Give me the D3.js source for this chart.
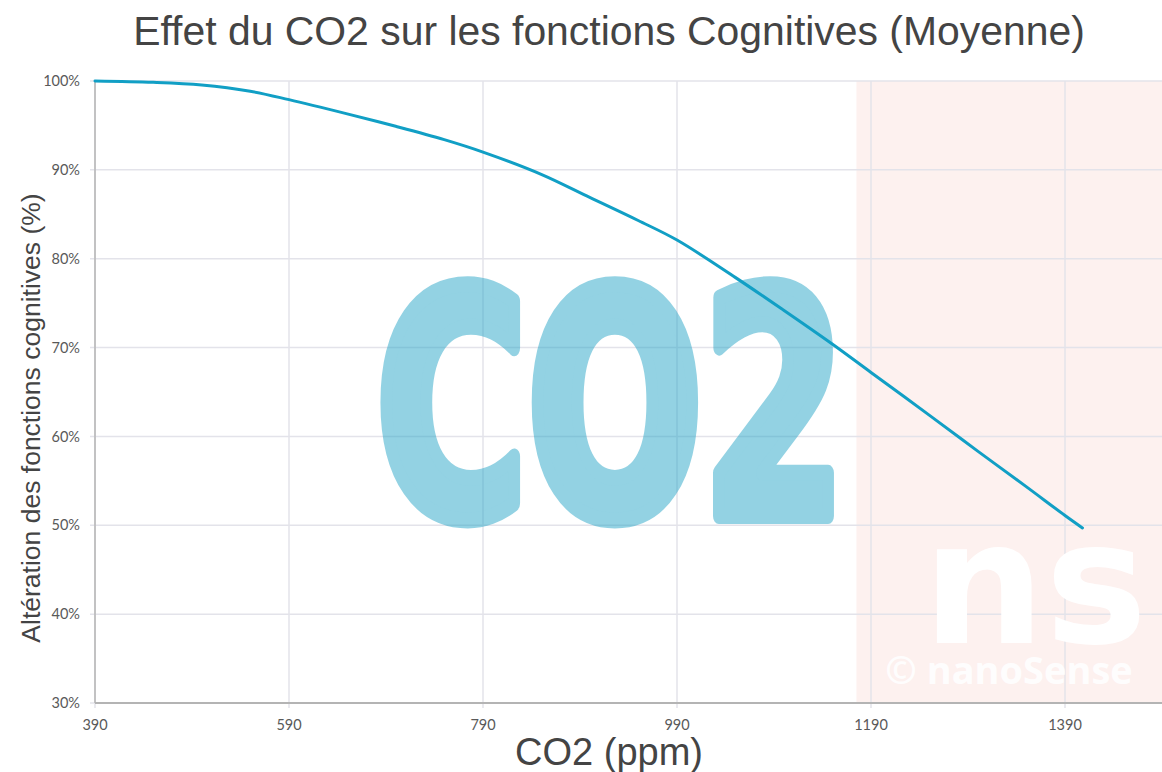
<!DOCTYPE html>
<html>
<head>
<meta charset="utf-8">
<style>
  body { margin: 0; background: #fff; }
  svg { display: block; }
</style>
</head>
<body>
<div id="chart"></div>
<script src="https://d3js.org/d3.v7.min.js"></script>
<script>
// values (CO2 ppm -> % cognitive function)
var co2 = [390, 450, 500, 550, 590, 650, 700, 750, 790, 850, 900, 950, 990, 1050, 1100, 1150, 1190, 1250, 1300, 1350, 1390, 1408];
var cognition = [100, 99.85, 99.55, 98.85, 97.9, 96.3, 94.9, 93.4, 92.0, 89.5, 86.9, 84.3, 82.1, 77.9, 74.2, 70.4, 67.2, 62.4, 58.35, 54.35, 51.1, 49.7];
var xTicks = [390, 590, 790, 990, 1190, 1390];
var yTicks = [30, 40, 50, 60, 70, 80, 90, 100];
var dangerStart = 1175;   // start of the pink zone

var W = 1162, H = 772;
var margin = {top: 81, right: 0, bottom: 69, left: 95};

var svg = d3.select("#chart").append("svg")
  .attr("width", W).attr("height", H);

var x = d3.scaleLinear().domain([390, 1490]).range([margin.left, W - margin.right]);
var y = d3.scaleLinear().domain([30, 100]).range([H - margin.bottom, margin.top]);

// pink zone
svg.append("rect")
  .attr("x", x(dangerStart)).attr("y", y(100))
  .attr("width", x.range()[1] - x(dangerStart))
  .attr("height", y(30) - y(100))
  .attr("fill", "#fdf1ef");

// grid
svg.append("g").selectAll("line").data(yTicks).enter().append("line")
  .attr("x1", x.range()[0] - 5).attr("x2", x.range()[1])
  .attr("y1", function (d) { return y(d); }).attr("y2", function (d) { return y(d); })
  .attr("stroke", "#e3e3ea").attr("stroke-width", 1.5);
svg.append("g").selectAll("line").data(xTicks).enter().append("line")
  .attr("x1", function (d) { return x(d); }).attr("x2", function (d) { return x(d); })
  .attr("y1", y(100)).attr("y2", y(30) + 5)
  .attr("stroke", "#e3e3ea").attr("stroke-width", 1.5);

// big CO2 watermark (heavy condensed look: bold text + thick outline, group made translucent)
var wmGroup = svg.append("g").attr("opacity", 0.5);
var wm = wmGroup.append("text")
  .text("CO2")
  .style("font-family", "'DejaVu Sans Condensed', 'DejaVu Sans'")
  .style("font-weight", "bold")
  .style("font-size", "100px")
  .attr("fill", "#29a6c8")
  .attr("stroke", "#29a6c8").attr("stroke-width", 14)
  .attr("stroke-linejoin", "round")
  .attr("vector-effect", "non-scaling-stroke");
var wmLen = wm.node().getComputedTextLength();
var sx = 470 / wmLen, sy = 228 / 73;
wm.attr("transform", "translate(376,516) scale(" + sx + "," + sy + ")");

// nanoSense logo
svg.append("text")
  .attr("x", 1035).attr("y", 643)
  .attr("text-anchor", "middle")
  .style("font-family", "'DejaVu Sans'").style("font-weight", "bold")
  .style("font-size", "172px")
  .attr("fill", "#fff")
  .text("ns");
svg.append("text")
  .attr("x", 1009).attr("y", 684)
  .attr("text-anchor", "middle")
  .style("font-family", "'Open Sans', 'DejaVu Sans'").style("font-weight", "bold")
  .style("font-size", "38px")
  .attr("fill", "#fff").attr("fill-opacity", 0.9)
  .text("© nanoSense");

// axes lines
svg.append("line")
  .attr("x1", x(390)).attr("x2", x(390)).attr("y1", y(100)).attr("y2", y(30))
  .attr("stroke", "#b4b4b4").attr("stroke-width", 1.5);
svg.append("line")
  .attr("x1", x(390)).attr("x2", x.range()[1]).attr("y1", y(30)).attr("y2", y(30))
  .attr("stroke", "#b4b4b4").attr("stroke-width", 2);

// tick labels
svg.append("g").selectAll("text").data(yTicks).enter().append("text")
  .attr("x", x(390) - 15).attr("y", function (d) { return y(d); })
  .attr("dy", "0.35em").attr("text-anchor", "end")
  .style("font-family", "Lato, 'Open Sans', sans-serif").style("font-size", "14.5px")
  .attr("fill", "#595959")
  .text(function (d) { return d + "%"; });
svg.append("g").selectAll("text").data(xTicks).enter().append("text")
  .attr("x", function (d) { return x(d); }).attr("y", y(30) + 22)
  .attr("dy", "0.35em").attr("text-anchor", "middle")
  .style("font-family", "Lato, 'Open Sans', sans-serif").style("font-size", "14.5px")
  .attr("fill", "#595959")
  .text(function (d) { return d; });

// curve
var line = d3.line()
  .x(function (d, i) { return x(co2[i]); })
  .y(function (d) { return y(d); })
  .curve(d3.curveCatmullRom.alpha(0.5));
svg.append("path")
  .datum(cognition)
  .attr("d", line)
  .attr("fill", "none")
  .attr("stroke", "#119fc5").attr("stroke-width", 3)
  .attr("stroke-linecap", "round");

// titles
var title = svg.append("text")
  .attr("x", 609).attr("y", 45)
  .attr("text-anchor", "middle")
  .style("font-family", "'Liberation Sans', Arial, sans-serif")
  .style("font-size", "100px")
  .attr("fill", "#444")
  .text("Effet du CO2 sur les fonctions Cognitives (Moyenne)");
var tLen = title.node().getComputedTextLength();
title.style("font-size", (100 * 952 / tLen) + "px");

svg.append("text")
  .attr("x", 609).attr("y", 765)
  .attr("text-anchor", "middle")
  .style("font-family", "'Liberation Sans', Arial, sans-serif")
  .style("font-size", "38px")
  .attr("fill", "#444")
  .text("CO2 (ppm)");

svg.append("text")
  .attr("transform", "translate(40,418) rotate(-90)")
  .attr("text-anchor", "middle")
  .style("font-family", "'Liberation Sans', Arial, sans-serif")
  .style("font-size", "26.5px")
  .attr("fill", "#444")
  .text("Altération des fonctions cognitives (%)");
</script>
</body>
</html>
